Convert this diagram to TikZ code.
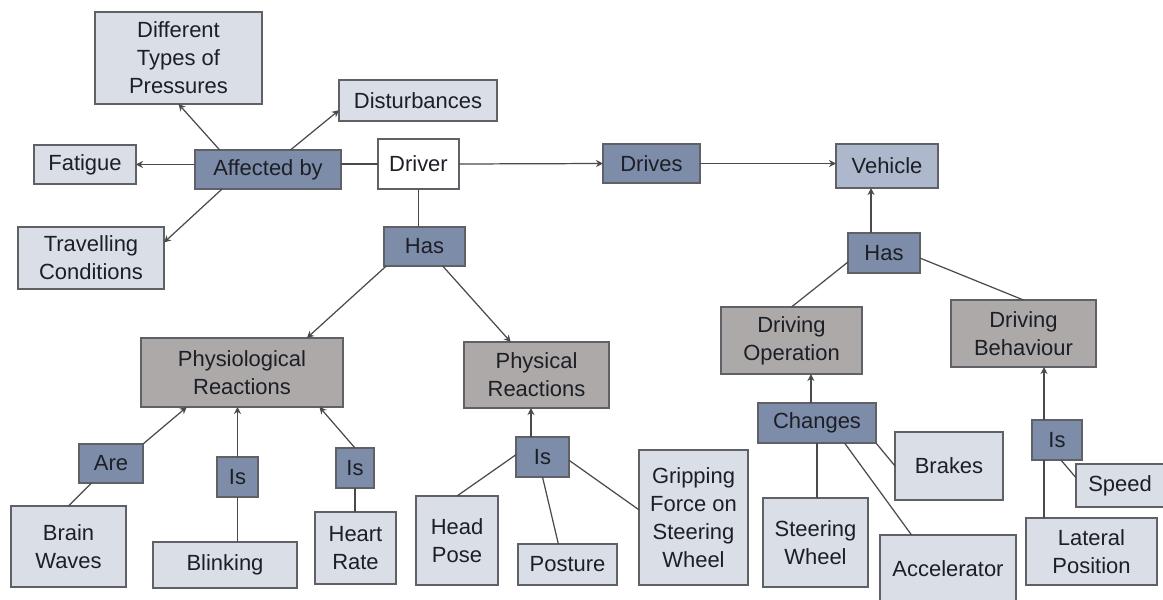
\documentclass[tikz,border=0pt]{standalone}
\usepackage{fontspec}
\setmainfont{Liberation Sans}
\usetikzlibrary{arrows.meta}
\definecolor{leaffill}{HTML}{D9DEE7}
\definecolor{relfill}{HTML}{7D8CA8}
\definecolor{midfill}{HTML}{AEB8CC}
\definecolor{conceptfill}{HTML}{ADA9A8}
\definecolor{boxstroke}{HTML}{5F6166}
\definecolor{linkline}{HTML}{4A4A4A}
\definecolor{txt}{HTML}{1C1F26}

\begin{document}
\begin{tikzpicture}[
  x=0.02cm, y=-0.02cm,
  font=\fontsize{12.5}{16}\selectfont,
  box/.style={
    draw=boxstroke,
    line width=0.8pt,
    inner sep=0pt,
    outer sep=0pt,
    align=center,
    text=txt
  },
  leaf/.style={box, fill=leaffill},
  relation/.style={box, fill=relfill},
  concept/.style={box, fill=conceptfill},
  link/.style={line width=0.7pt, draw=linkline},
  arrow/.style={link, -{Stealth[length=4pt,width=4pt]}}
]
  \useasboundingbox (0,0) rectangle (1163,599);

  % Driver and its influences
  \node[box, fill=white, minimum width=1.62cm, minimum height=1.0cm] (driver) at (418.5,164) {Driver};
  \node[relation, minimum width=2.92cm, minimum height=0.78cm] (affected) at (268,169.5) {Affected by};
  \node[leaf, minimum width=3.34cm, minimum height=1.84cm] (pressures) at (178.5,58) {Different\\Types of\\Pressures};
  \node[leaf, minimum width=3.16cm, minimum height=0.82cm] (disturb) at (418,100.5) {Disturbances};
  \node[leaf, minimum width=2.04cm, minimum height=0.78cm] (fatigue) at (85,164.5) {Fatigue};
  \node[leaf, minimum width=2.92cm, minimum height=1.24cm] (travel) at (91,258) {Travelling\\Conditions};

  % Vehicle branch
  \node[relation, minimum width=1.94cm, minimum height=0.78cm] (drives) at (651.5,163.5) {Drives};
  \node[box, fill=midfill, minimum width=2.04cm, minimum height=0.88cm] (vehicle) at (887,166) {Vehicle};
  \node[relation, minimum width=1.44cm, minimum height=0.8cm] (hasB) at (884,253) {Has};
  \node[concept, minimum width=2.82cm, minimum height=1.34cm] (drvop) at (791.5,340.5) {Driving\\Operation};
  \node[concept, minimum width=2.9cm, minimum height=1.34cm] (drvbeh) at (1023.5,333.5) {Driving\\Behaviour};

  % Reactions of the driver
  \node[relation, minimum width=1.62cm, minimum height=0.78cm] (hasA) at (424.5,246.5) {Has};
  \node[concept, minimum width=4.04cm, minimum height=1.38cm] (physio) at (242,372.5) {Physiological\\Reactions};
  \node[concept, minimum width=2.9cm, minimum height=1.32cm] (physic) at (536.5,375) {Physical\\Reactions};

  \node[relation, minimum width=1.28cm, minimum height=0.78cm] (are) at (111,463.5) {Are};
  \node[relation, minimum width=0.82cm, minimum height=0.8cm] (isA) at (237.5,477) {Is};
  \node[relation, minimum width=0.76cm, minimum height=0.8cm] (isB) at (355,468) {Is};
  \node[relation, minimum width=1.06cm, minimum height=0.8cm] (isC) at (542.5,457) {Is};

  \node[leaf, minimum width=2.3cm, minimum height=1.62cm] (brain) at (68.5,546.5) {Brain\\Waves};
  \node[leaf, minimum width=2.88cm, minimum height=0.92cm] (blink) at (225,565) {Blinking};
  \node[leaf, minimum width=1.62cm, minimum height=1.44cm] (heart) at (355.5,548) {Heart\\Rate};
  \node[leaf, minimum width=1.64cm, minimum height=1.78cm] (head) at (457,540.5) {Head\\Pose};
  \node[leaf, minimum width=1.98cm, minimum height=0.82cm] (posture) at (567.5,564.5) {Posture};
  \node[leaf, minimum width=2.18cm, minimum height=2.7cm] (grip) at (693.5,517.5) {Gripping\\Force on\\Steering\\Wheel};

  % Operation and behaviour details
  \node[relation, minimum width=2.36cm, minimum height=0.8cm] (changes) at (817,423) {Changes};
  \node[leaf, minimum width=2.16cm, minimum height=1.36cm] (brakes) at (949,466) {Brakes};
  \node[leaf, minimum width=2.1cm, minimum height=1.78cm] (steer) at (815.5,542.5) {Steering\\Wheel};
  \node[leaf, minimum width=2.72cm, minimum height=1.36cm] (accel) at (948,569) {Accelerator};
  \node[relation, minimum width=1.0cm, minimum height=0.8cm] (isD) at (1057,440) {Is};
  \node[leaf, minimum width=1.76cm, minimum height=0.86cm] (speed) at (1120,485.5) {Speed};
  \node[leaf, minimum width=2.62cm, minimum height=1.34cm] (lateral) at (1091.5,551.5) {Lateral\\Position};

  % Top connectors
  \draw[link] (driver.west) -- (driver.west -| affected.east);
  \draw[arrow] (affected.west |- fatigue.east) -- (fatigue.east);
  \draw[arrow] (affected.158.7) -- (pressures.south);
  \draw[arrow] (affected.41.6) -- (disturb.187.5);
  \draw[arrow] (affected.203.4) -- (travel.12.4);
  \draw[link] (driver.south) -- (driver.south |- hasA.north);
  \draw[arrow] (driver.east) -- (drives.west);
  \draw[arrow] (drives.east) -- (drives.east -| vehicle.west);

  % Vehicle connectors
  \draw[arrow] (hasB.123) -- (hasB.123 |- vehicle.south);
  \draw[link] (hasB.194) -- (drvop.north);
  \draw[link] (hasB.352) -- (drvbeh.north);

  % Reaction connectors
  \draw[arrow] (hasA.207.5) -- (physio.28.2);
  \draw[arrow] (hasA.313.5) -- (physic.128.6);
  \draw[arrow] (are.north east) -- (physio.212);
  \draw[link] (are.225.7) -- (brain.north);
  \draw[arrow] (isA.north) -- (isA.north |- physio.south);
  \draw[link] (isA.south) -- (isA.south |- blink.north);
  \draw[arrow] (isB.north) -- (physio.336.8);
  \draw[link] (isB.south) -- (isB.south |- heart.north);
  \draw[arrow] (isC.120) -- (isC.120 |- physic.south);
  \draw[link] (isC.175.7) -- (head.north);
  \draw[link] (isC.south) -- (posture.114.9);
  \draw[link] (isC.353.5) -- (grip.172.2);

  % Detail connectors
  \draw[arrow] (changes.107) -- (changes.107 |- drvop.south);
  \draw[link] (changes.south) -- (changes.south |- steer.north);
  \draw[link] (changes.324.5) -- (accel.137.4);
  \draw[link] (changes.south east) -- (brakes.west);
  \draw[arrow] (isD.123) -- (isD.123 |- drvbeh.south);
  \draw[link] (isD.237) -- (isD.237 |- lateral.north);
  \draw[link] (isD.281) -- (speed.170);
\end{tikzpicture}
\end{document}
